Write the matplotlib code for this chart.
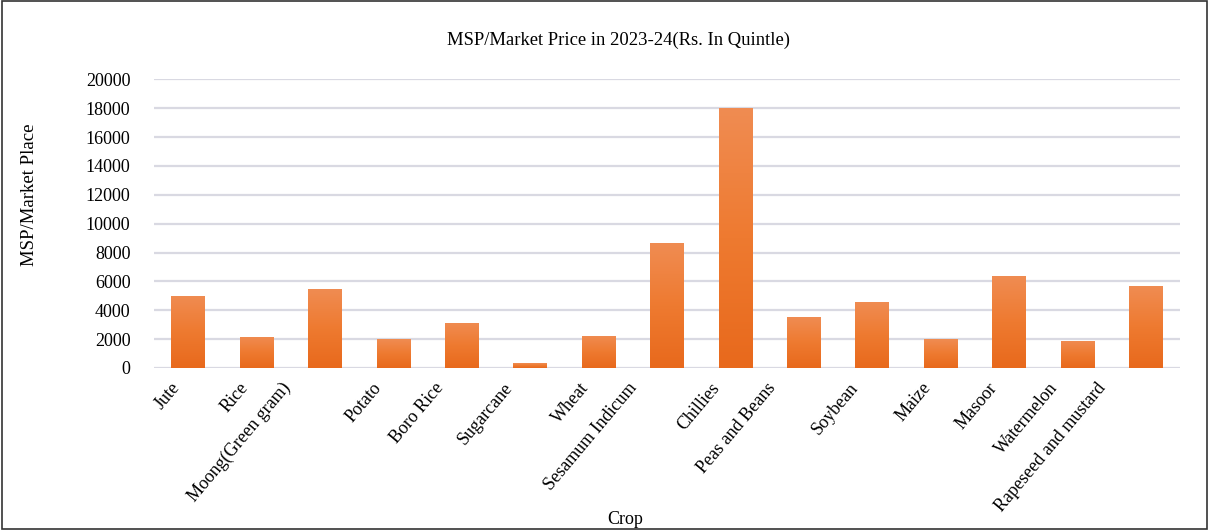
import numpy as np
import matplotlib
matplotlib.use("Agg")
import matplotlib.pyplot as plt
import matplotlib.transforms as mtransforms
from matplotlib.colors import LinearSegmentedColormap
from matplotlib.patches import Rectangle

crops = ["Jute", "Rice", "Moong(Green gram)", "Potato", "Boro Rice", "Sugarcane",
         "Wheat", "Sesamum Indicum", "Chillies", "Peas and Beans", "Soybean",
         "Maize", "Masoor", "Watermelon", "Rapeseed and mustard"]
prices = [5000, 2150, 5450, 2000, 3150, 315, 2250, 8635, 18000, 3500,
          4550, 2000, 6350, 1900, 5650]
y_ticks = [0, 2000, 4000, 6000, 8000, 10000, 12000, 14000, 16000, 18000, 20000]

plt.rcParams["font.family"] = ["Liberation Serif", "DejaVu Serif"]

fig = plt.figure(figsize=(12.09, 5.31), dpi=100)
ax = fig.add_axes([0.1274, 0.307, 0.8486, 0.5437])

x = np.arange(len(crops))
bars = ax.bar(x, prices, width=0.49, color="none", edgecolor="none", zorder=3)

# orange gradient, lighter at the top of each bar
grad = LinearSegmentedColormap.from_list("orange", ["#e8691c", "#ee7a30", "#f08c52"])
img = np.linspace(0, 1, 256).reshape(-1, 1)
for b in bars:
    x0, y0 = b.get_x(), b.get_y()
    w, h = b.get_width(), b.get_height()
    im = ax.imshow(img, cmap=grad, origin="lower", aspect="auto",
                   extent=(x0, x0 + w, y0, y0 + h), zorder=3)
    im.set_clip_path(b)

ax.set_xlim(-0.5, len(crops) - 0.5)
ax.set_ylim(0, 20000)
ax.set_yticks(y_ticks)
ax.set_yticklabels([str(v) for v in y_ticks], fontsize=13)
ax.tick_params(axis="y", length=0, pad=17)
ax.set_xticks(x)
ax.set_xticklabels([])
ax.tick_params(axis="x", length=0)
ax.grid(axis="y", color="#d9d9e2", linewidth=1.6, zorder=0)
ax.set_axisbelow(True)
for s in ax.spines.values():
    s.set_visible(False)

# rotated crop names, longer names pulled further left
base = ax.get_xaxis_transform()
for xi, name in zip(x, crops):
    tr = mtransforms.offset_copy(base, fig=fig, x=-(2.0 * len(name) + 3) / 100.0,
                                 y=-0.17, units="inches")
    ax.text(xi, 0, name, transform=tr, rotation=50, rotation_mode="anchor",
            ha="right", va="center", fontsize=13)

fig.text(619 / 1209, 1 - 40 / 531, "MSP/Market Price in 2023-24(Rs. In Quintle)",
         ha="center", va="center", fontsize=13.4)
fig.text(30 / 1209, 1 - 195 / 531, "MSP/Market Place", rotation=90,
         ha="center", va="center", fontsize=13.5)
fig.text(625 / 1209, 1 - 519 / 531, "Crop", ha="center", va="center", fontsize=13)

fig.patches.append(Rectangle((0.002, 0.004), 0.996, 0.994, transform=fig.transFigure,
                             fill=False, edgecolor="#333333", linewidth=1.2))

fig.savefig("out.png", dpi=100)
